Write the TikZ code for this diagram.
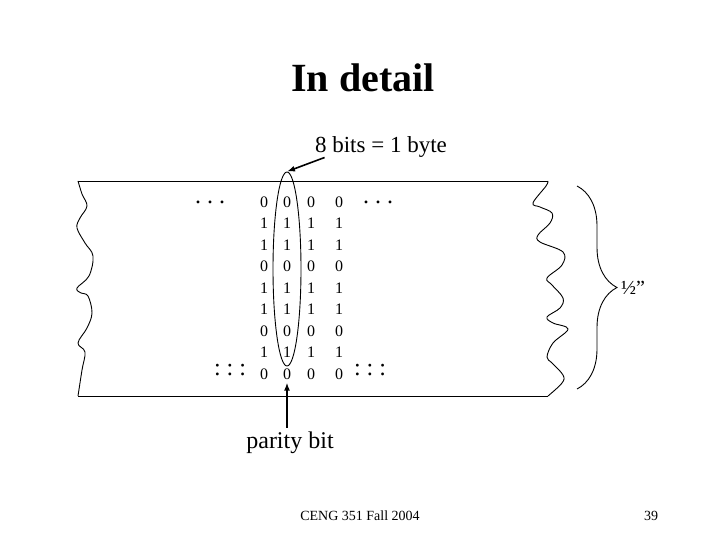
\documentclass[tikz,border=0pt]{standalone}
\usepackage{fontspec}
\setmainfont{Liberation Serif}
\usepackage{tikz}
\usetikzlibrary{arrows.meta,shapes.geometric,decorations.pathreplacing}

\begin{document}
\begin{tikzpicture}[x=1pt,y=-1pt,
  bit/.style={font=\fontsize{16}{16}\selectfont, inner sep=1pt},
  dotrow/.style={font=\fontsize{24}{24}\selectfont\frenchspacing, anchor=base, inner sep=0pt},
  label/.style={font=\fontsize{#1}{#1}\selectfont, anchor=base},
  edge/.style={line width=0.9pt},
  pointer/.style={line width=1.6pt, -{Latex[length=8pt,width=6pt]}}]
\useasboundingbox (0,0) rectangle (720,540);

\node[label=40, font=\bfseries\fontsize{40}{40}\selectfont] (title) at (363,92) {In detail};

% tape
\draw[edge] (78,181) -- (548,181);
\draw[edge] (78,396) -- (548,396);
\draw[edge] plot[smooth, tension=0.6] coordinates {(78,181) (82,194) (87,206) (80,218) (77,228) (85,243) (93,256) (89,276) (77,288) (81,293) (88,296) (92,313) (87,328) (78,343) (85,352) (82,370) (78,396)};
\draw[edge] plot[smooth, tension=0.6] coordinates {(548,181) (546,186) (533,203) (540,207) (552,213) (550,223) (538,235) (540,242) (563,252) (562,265) (547,278) (552,285) (563,298) (560,308) (547,317) (553,323) (568,329) (553,343) (547,357) (552,363) (563,375) (562,383) (548,396)};

\foreach \b [count=\r] in {0,1,1,0,1,1,0,1,0}{
  \foreach \x [count=\c] in {264,287,311,339}{
    \node[bit] (b-\c-\r) at (\x,{202+21.5*(\r-1)}) {\b};
  }
}

\node[dotrow] (dots-tl) at (210,203.5) {. . .};
\node[dotrow] (dots-tr) at (378,203.5) {. . .};
\node[dotrow] (dots-bl) at (230,375.5) {: : :};
\node[dotrow] (dots-br) at (370,375.5) {: : :};

\node[draw, ellipse, edge, minimum width=28pt, minimum height=194pt, inner sep=0pt] (byte) at (287,269) {};
\node[label=23] (bytelabel) at (381,153) {8 bits = 1 byte};
\draw[pointer] ([xshift=13pt,yshift=4pt]bytelabel.south west) -- (byte.north);

\node[label=24] (parity) at (290,448) {parity bit};
\draw[pointer] (parity.north -| b-2-9) -- ([yshift=-2pt]b-2-9.south);

\draw[edge, decorate, decoration={brace, amplitude=40pt}] (577,186) -- (577,389);
\node[font=\fontsize{20}{20}\selectfont, anchor=west, inner sep=2pt] (width) at (619,288) {½”};

\node[label=14] (course) at (360,520) {CENG 351 Fall 2004};
\node[label=14] (page) at (651,520) {39};
\end{tikzpicture}
\end{document}
